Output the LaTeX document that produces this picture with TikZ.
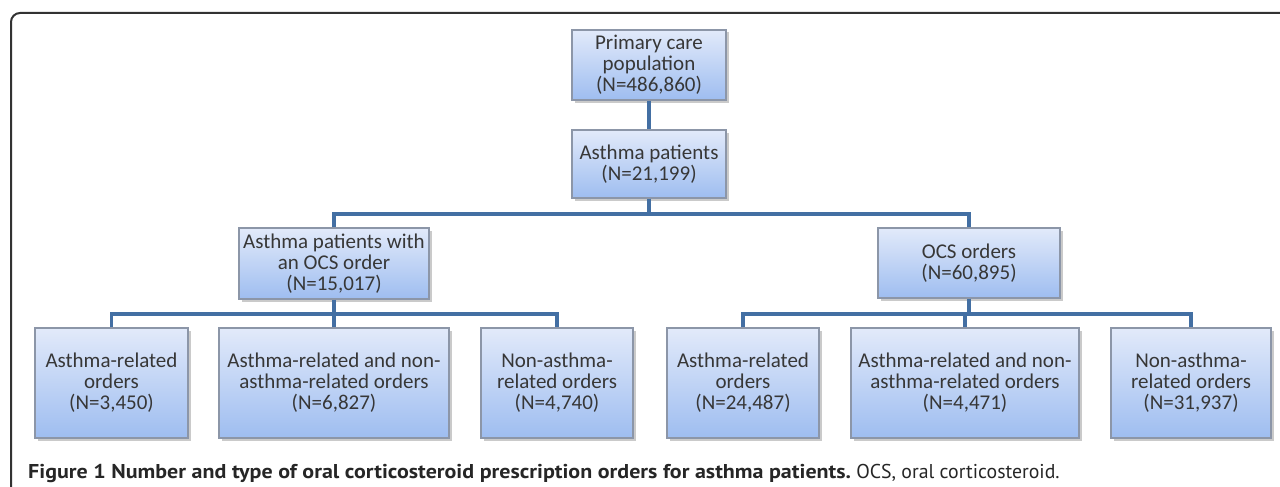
\documentclass[tikz,border=0pt]{standalone}
\usepackage{fontspec}
\usepackage{graphicx}
\setmainfont{Carlito}
\newfontfamily\capfont{PT Sans}
\usetikzlibrary{shadows}
\definecolor{conncol}{RGB}{67,111,163}
\definecolor{boxtop}{RGB}{226,234,250}
\definecolor{boxbot}{RGB}{158,189,240}
\definecolor{boxedge}{RGB}{140,150,168}
\definecolor{txt}{RGB}{55,55,55}
\definecolor{framecol}{RGB}{50,50,50}
\tikzset{
  flowbox/.style={rectangle, draw=boxedge, line width=1.2pt, top color=boxtop, bottom color=boxbot,
    align=center, inner sep=0pt, text=txt, font=\fontsize{21}{21}\selectfont,
    drop shadow={shadow xshift=2.5pt, shadow yshift=-2.5pt, opacity=0.35, fill=black!60}},
  conn/.style={draw=conncol, line width=3.5pt, line join=miter}
}
\begin{document}
\begin{tikzpicture}[x=1pt,y=-1pt]
\useasboundingbox (0,0) rectangle (1280,487);
% frame
\draw[framecol, line width=2pt, rounded corners=9pt] (1281,13) -- (11,13) -- (11,488);
% nodes
\node[flowbox, minimum width=154pt, minimum height=70pt] (pop) at (649,65) {Primary care\\population\\(N=486,860)};
\node[flowbox, minimum width=154pt, minimum height=68pt] (ast) at (649,164) {Asthma patients\\(N=21,199)};
\node[flowbox, minimum width=190pt, minimum height=71pt] (lmid) at (334,263.5) {Asthma patients with\\an OCS order\\(N=15,017)};
\node[flowbox, minimum width=182pt, minimum height=70pt] (rmid) at (969,263) {OCS orders\\(N=60,895)};
\node[flowbox, minimum width=153pt, minimum height=110pt] (l1) at (111.5,383) {Asthma-related\\orders\\(N=3,450)};
\node[flowbox, minimum width=230pt, minimum height=110pt] (l2) at (334,383) {Asthma-related and non-\\asthma-related orders\\(N=6,827)};
\node[flowbox, minimum width=152pt, minimum height=110pt] (l3) at (557,383) {Non-asthma-\\related orders\\(N=4,740)};
\node[flowbox, minimum width=152pt, minimum height=110pt] (r1) at (743,383) {Asthma-related\\orders\\(N=24,487)};
\node[flowbox, minimum width=228pt, minimum height=110pt] (r2) at (965,383) {Asthma-related and non-\\asthma-related orders\\(N=4,471)};
\node[flowbox, minimum width=160pt, minimum height=110pt] (r3) at (1191,383) {Non-asthma-\\related orders\\(N=31,937)};
% bus coordinates
\coordinate (bus1) at (0,214);
\coordinate (bus2) at (0,314);
% connectors
\draw[conn] (pop.south) -- (ast.north);
\draw[conn] (ast.south) -- (ast.south |- bus1);
\draw[conn] (lmid.north) -- (lmid.north |- bus1) -- (rmid.north |- bus1) -- (rmid.north);
\draw[conn] (lmid.south) -- (lmid.south |- bus2);
\draw[conn] (l1.north) -- (l1.north |- bus2) -- (l3.north |- bus2) -- (l3.north);
\draw[conn] (l2.north) -- (l2.north |- bus2);
\draw[conn] (rmid.south) -- (rmid.south |- bus2);
\draw[conn] (r1.north) -- (r1.north |- bus2) -- (r3.north |- bus2) -- (r3.north);
\draw[conn] (r2.north) -- (r2.north |- bus2);
% caption
\node[anchor=base west, inner sep=0pt, text=black!85, font=\capfont\fontsize{20}{20}\selectfont] (cap) at (28,478)
  {\scalebox{1.10}[1]{\textbf{Figure 1 Number and type of oral corticosteroid prescription orders for asthma patients.}} \scalebox{0.99}[1]{OCS, oral corticosteroid.}};
\end{tikzpicture}
\end{document}
